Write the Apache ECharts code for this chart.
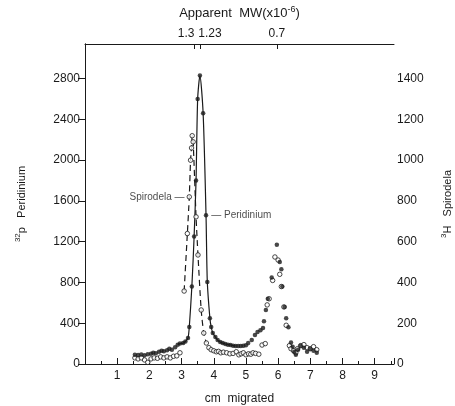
<!DOCTYPE html>
<html><head><meta charset="utf-8">
<script src="https://cdn.jsdelivr.net/npm/echarts@6/dist/echarts.min.js"></script>
<style>html,body{margin:0;padding:0;background:#fff}#c{width:455px;height:406px}</style>
</head><body><div id="c"></div>
<script>
// Peridinium (32P, filled dots, left axis)
const periX = [1.55,1.65,1.75,1.85,1.95,2.05,2.12,2.2,2.3,2.38,2.45,2.55,2.62,2.7,2.8,2.88,2.95,3.05,3.12,3.2,3.24,3.32,3.39,3.45,3.5,3.57,3.67,3.76,3.8,3.88,3.92,3.97,4.05,4.12,4.2,4.28,4.36,4.44,4.52,4.6,4.68,4.76,4.84,4.92,5.0,5.07,5.18,5.28,5.36,5.45,5.53,5.56,5.62,5.68,5.8,5.96,6.05,6.1,6.13,6.2,6.25,6.32,6.4,6.45,6.5,6.55,6.62,6.7,6.8,6.9,7.0,7.1,7.2];
const periY = [90,88,92,85,95,100,110,105,120,130,125,135,150,140,165,190,200,205,220,255,363,760,1250,1800,2600,2830,2460,1460,805,450,363,305,265,235,216,205,196,190,187,180,177,177,177,180,185,206,236,285,314,330,353,420,530,640,850,1170,1000,930,760,560,450,360,210,170,120,90,140,180,160,120,150,130,110];
// Spirodela (3H, open circles, right axis)
const spiroX = [1.55,1.65,1.75,1.85,1.95,2.05,2.15,2.25,2.35,2.45,2.55,2.65,2.75,2.85,2.95,3.08,3.18,3.24,3.28,3.31,3.33,3.36,3.45,3.51,3.61,3.69,3.77,3.85,3.92,4.0,4.08,4.15,4.22,4.3,4.4,4.5,4.6,4.7,4.78,4.85,4.92,5.0,5.08,5.15,5.22,5.3,5.4,5.5,5.6,5.66,5.72,5.83,5.9,6.0,6.05,6.1,6.18,6.25,6.35,6.4,6.48,6.55,6.6,6.7,6.8,6.9,7.0,7.1,7.2];
const spiroY = [30,25,30,20,8,25,30,28,35,30,35,30,38,40,55,358,640,820,1000,1060,1120,1090,722,535,265,152,103,80,70,65,60,62,55,58,55,50,52,60,45,50,55,45,50,48,55,52,48,93,100,290,320,410,525,510,440,380,280,190,90,75,65,55,75,90,95,80,75,85,70];
// Hand-drawn curve ranges (cm) over which points are joined
const periCurveRange = [2.85, 4.7];
const spiroCurveRange = [3.0, 3.8];
// Annotated points (cm)
const spiroNoteX = 3.24, periNoteX = 3.76;
// Top axis: apparent MW
const mwLabels = ['1.3', '1.23', '0.7'];
const mwPos = [3.39, 3.57, 5.96];
const mwRich = ['l', 'r', 'c'];

const FONT = 'Liberation Sans';
const INK = '#1a1a1a';

const periPts = periX.map((x, i) => [x, periY[i]]);
const spiroPts = spiroX.map((x, i) => [x, spiroY[i]]);
const plain = v => String(v);

const chart = echarts.init(document.getElementById('c'), null, {renderer: 'canvas'});
chart.setOption({
  animation: false,
  backgroundColor: '#fff',
  textStyle: {fontFamily: FONT, color: INK},
  grid: {left: 85, right: 61, top: 44, bottom: 42, containLabel: false, outerBoundsMode: 'none'},
  xAxis: [{
    type: 'value', position: 'bottom', min: 0, max: 9.6, interval: 1,
    name: 'cm  migrated', nameLocation: 'middle', nameGap: 29,
    nameTextStyle: {fontSize: 12, color: INK, fontFamily: FONT},
    axisLine: {show: true, onZero: false, lineStyle: {color: INK, width: 1}},
    axisTick: {show: true, inside: true, length: 6, lineStyle: {color: INK}},
    minorTick: {show: true, splitNumber: 2, length: 3, lineStyle: {color: INK}},
    splitLine: {show: false},
    axisLabel: {showMinLabel: false, showMaxLabel: false, margin: 6, fontSize: 12, color: INK, fontFamily: FONT, formatter: plain}
  }, {
    type: 'value', position: 'top', min: 0, max: 9.6,
    name: '{a|Apparent  MW(x10}{s|-6}{a|)}', nameLocation: 'middle', nameGap: 22,
    nameTextStyle: {rich: {a: {fontSize: 13, color: INK, fontFamily: FONT}, s: {fontSize: 9, color: INK, fontFamily: FONT, padding: [0,0,8,0]}}},
    axisLine: {show: true, onZero: false, lineStyle: {color: INK, width: 1}},
    axisTick: {show: true, inside: true, length: 5, customValues: mwPos, lineStyle: {color: INK}},
    splitLine: {show: false},
    axisLabel: {
      customValues: mwPos, margin: 4, fontSize: 12, color: INK, fontFamily: FONT,
      formatter: function (v) {
        let k = -1, d = 1e9;
        mwPos.forEach((p, i) => { if (Math.abs(p - v) < d) { d = Math.abs(p - v); k = i; } });
        return '{' + mwRich[k] + '|' + mwLabels[k] + '}';
      },
      rich: {
        l: {fontSize: 12, color: INK, fontFamily: FONT, padding: [0, 16, 0, 0]},
        r: {fontSize: 12, color: INK, fontFamily: FONT, padding: [0, 0, 0, 20]},
        c: {fontSize: 12, color: INK, fontFamily: FONT}
      }
    }
  }],
  yAxis: [{
    type: 'value', position: 'left', min: 0, max: 3140, interval: 400,
    name: '{s|32}{a|p   Peridinium}', nameLocation: 'middle', nameGap: 56,
    nameTextStyle: {rich: {a: {fontSize: 11, color: INK, fontFamily: FONT}, s: {fontSize: 8, color: INK, fontFamily: FONT, padding: [0,0,7,0]}}},
    axisLine: {show: true, lineStyle: {color: INK, width: 1}},
    axisTick: {show: false},
    splitLine: {show: false},
    axisLabel: {showMaxLabel: false, margin: 5, fontSize: 12, color: INK, fontFamily: FONT, formatter: plain}
  }, {
    type: 'value', position: 'right', min: 0, max: 1570, interval: 200,
    name: '{s|3}{a|H   Spirodela}', nameLocation: 'middle', nameGap: 46,
    nameTextStyle: {rich: {a: {fontSize: 11, color: INK, fontFamily: FONT}, s: {fontSize: 8, color: INK, fontFamily: FONT, padding: [0,0,7,0]}}},
    axisLine: {show: true, lineStyle: {color: INK, width: 1}},
    axisTick: {show: true, inside: true, length: 7, lineStyle: {color: INK}},
    splitLine: {show: false},
    axisLabel: {showMaxLabel: false, margin: 3, fontSize: 12, color: INK, fontFamily: FONT, formatter: plain}
  }],
  series: [{
    type: 'line', xAxisIndex: 0, yAxisIndex: 0, showSymbol: false, smooth: 0.25, silent: true,
    data: periPts.filter(p => p[0] >= periCurveRange[0] && p[0] <= periCurveRange[1]),
    lineStyle: {color: INK, width: 1.2}, z: 2
  }, {
    type: 'line', xAxisIndex: 0, yAxisIndex: 1, showSymbol: false, smooth: 0.25, silent: true,
    data: spiroPts.filter(p => p[0] >= spiroCurveRange[0] && p[0] <= spiroCurveRange[1]),
    lineStyle: {color: INK, width: 1.2, type: [6, 4]}, z: 2
  }, {
    type: 'scatter', xAxisIndex: 0, yAxisIndex: 1, symbol: 'circle', symbolSize: 4.5,
    itemStyle: {color: '#fff', borderColor: INK, borderWidth: 1},
    data: spiroPts.map(p => p[0] === spiroNoteX ? {value: p, label: {show: true, position: 'left', distance: 2, formatter: 'Spirodela —', fontSize: 10, color: INK, fontFamily: FONT}} : p),
    z: 3
  }, {
    type: 'scatter', xAxisIndex: 0, yAxisIndex: 0, symbol: 'circle', symbolSize: 4.5,
    itemStyle: {color: INK},
    data: periPts.map(p => p[0] === periNoteX ? {value: p, label: {show: true, position: 'right', distance: 3, formatter: '— Peridinium', fontSize: 10, color: INK, fontFamily: FONT}} : p),
    z: 4
  }]
});
</script>
</body></html>
